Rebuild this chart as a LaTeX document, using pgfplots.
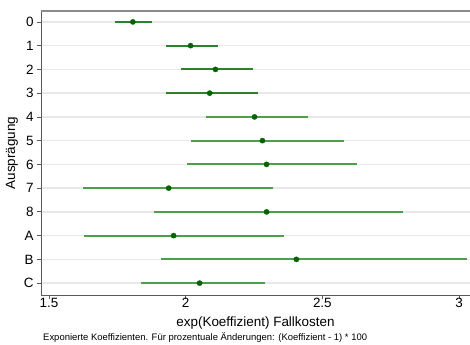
\documentclass[border=0pt]{standalone}
\usepackage{pgfplots}
\pgfplotsset{compat=1.18}
\usepackage{pgfplotstable}
\usepackage{fontspec}
\setmainfont{Liberation Sans}
\definecolor{cidark}{HTML}{2E7F2E}
\definecolor{cilight}{HTML}{4E9E4E}
\definecolor{ptgreen}{HTML}{006400}
\definecolor{gridgray}{HTML}{E8E8E8}
\definecolor{spine}{HTML}{5A5A5A}

\pgfplotstableread{
row est lo hi
0 1.807 1.741 1.876
1 2.018 1.927 2.117
2 2.109 1.982 2.248
3 2.088 1.927 2.266
}\dataA
\pgfplotstableread{
row est lo hi
4 2.252 2.073 2.449
5 2.281 2.018 2.580
6 2.296 2.004 2.628
7 1.938 1.624 2.318
8 2.296 1.883 2.796
9 1.956 1.628 2.358
10 2.405 1.909 3.029
11 2.051 1.836 2.292
}\dataB

\begin{document}
\begin{tikzpicture}
\begin{axis}[
  set layers,
  scale only axis,
  width=429bp, height=284bp,
  xmin=1.471, xmax=3.04,
  ymin=-0.46, ymax=11.5,
  y dir=reverse,
  axis x line*=bottom, axis y line*=left,
  axis line style={spine, line width=1pt},
  xtick={1.5,2,2.5,3},
  xticklabels={1.5,2,2.5,3},
  ytick={0,...,11},
  yticklabels={0,1,2,3,4,5,6,7,8,A,B,C},
  tick style={spine, line width=0.8pt},
  tick align=outside,
  major tick length=4bp,
  ymajorgrids,
  grid style={gridgray, line width=1.6pt},
  tick label style={font=\fontsize{13.5}{15}\selectfont},
  xticklabel style={anchor=base, yshift=-8bp},
  xlabel={exp(Koeffizient) Fallkosten},
  ylabel={Ausprägung},
  label style={font=\fontsize{13.5}{15}\selectfont},
  xlabel style={at={(rel axis cs:0.5,0)}, anchor=base, yshift=-31bp},
  ylabel style={yshift=-1bp},
  clip=false,
]
\addplot[cidark, mark=none, forget plot, draw=none,
  error bars/.cd, x dir=both, x explicit,
  error mark=none,
  error bar style={draw=cidark, line width=2bp, solid}]
  table[x=est, y=row,
        x error plus expr=\thisrow{hi}-\thisrow{est},
        x error minus expr=\thisrow{est}-\thisrow{lo}] {\dataA};
\addplot[cilight, mark=none, forget plot, draw=none,
  error bars/.cd, x dir=both, x explicit,
  error mark=none,
  error bar style={draw=cilight, line width=2bp, solid}]
  table[x=est, y=row,
        x error plus expr=\thisrow{hi}-\thisrow{est},
        x error minus expr=\thisrow{est}-\thisrow{lo}] {\dataB};
\addplot[only marks, mark=*, mark size=2.6bp, ptgreen] table[x=est, y=row] {\dataA};
\addplot[only marks, mark=*, mark size=2.6bp, ptgreen] table[x=est, y=row] {\dataB};
\draw[spine!70, line width=1.2pt] (rel axis cs:0,1) -- (rel axis cs:1,1);
\coordinate (SW) at (rel axis cs:0,0);
\coordinate (NE) at (rel axis cs:1,1);
\node[anchor=base west, font=\fontsize{9.5}{11}\selectfont, inner sep=0pt] at ([xshift=2bp,yshift=-45bp]rel axis cs:0,0) {Exponierte Koeffizienten. Für prozentuale Änderungen: (Koeffizient - 1) * 100};
\end{axis}
\pgfresetboundingbox
\path[use as bounding box] ([xshift=-41bp,yshift=-50bp]SW) rectangle ([yshift=11bp]NE);
\end{tikzpicture}
\end{document}
